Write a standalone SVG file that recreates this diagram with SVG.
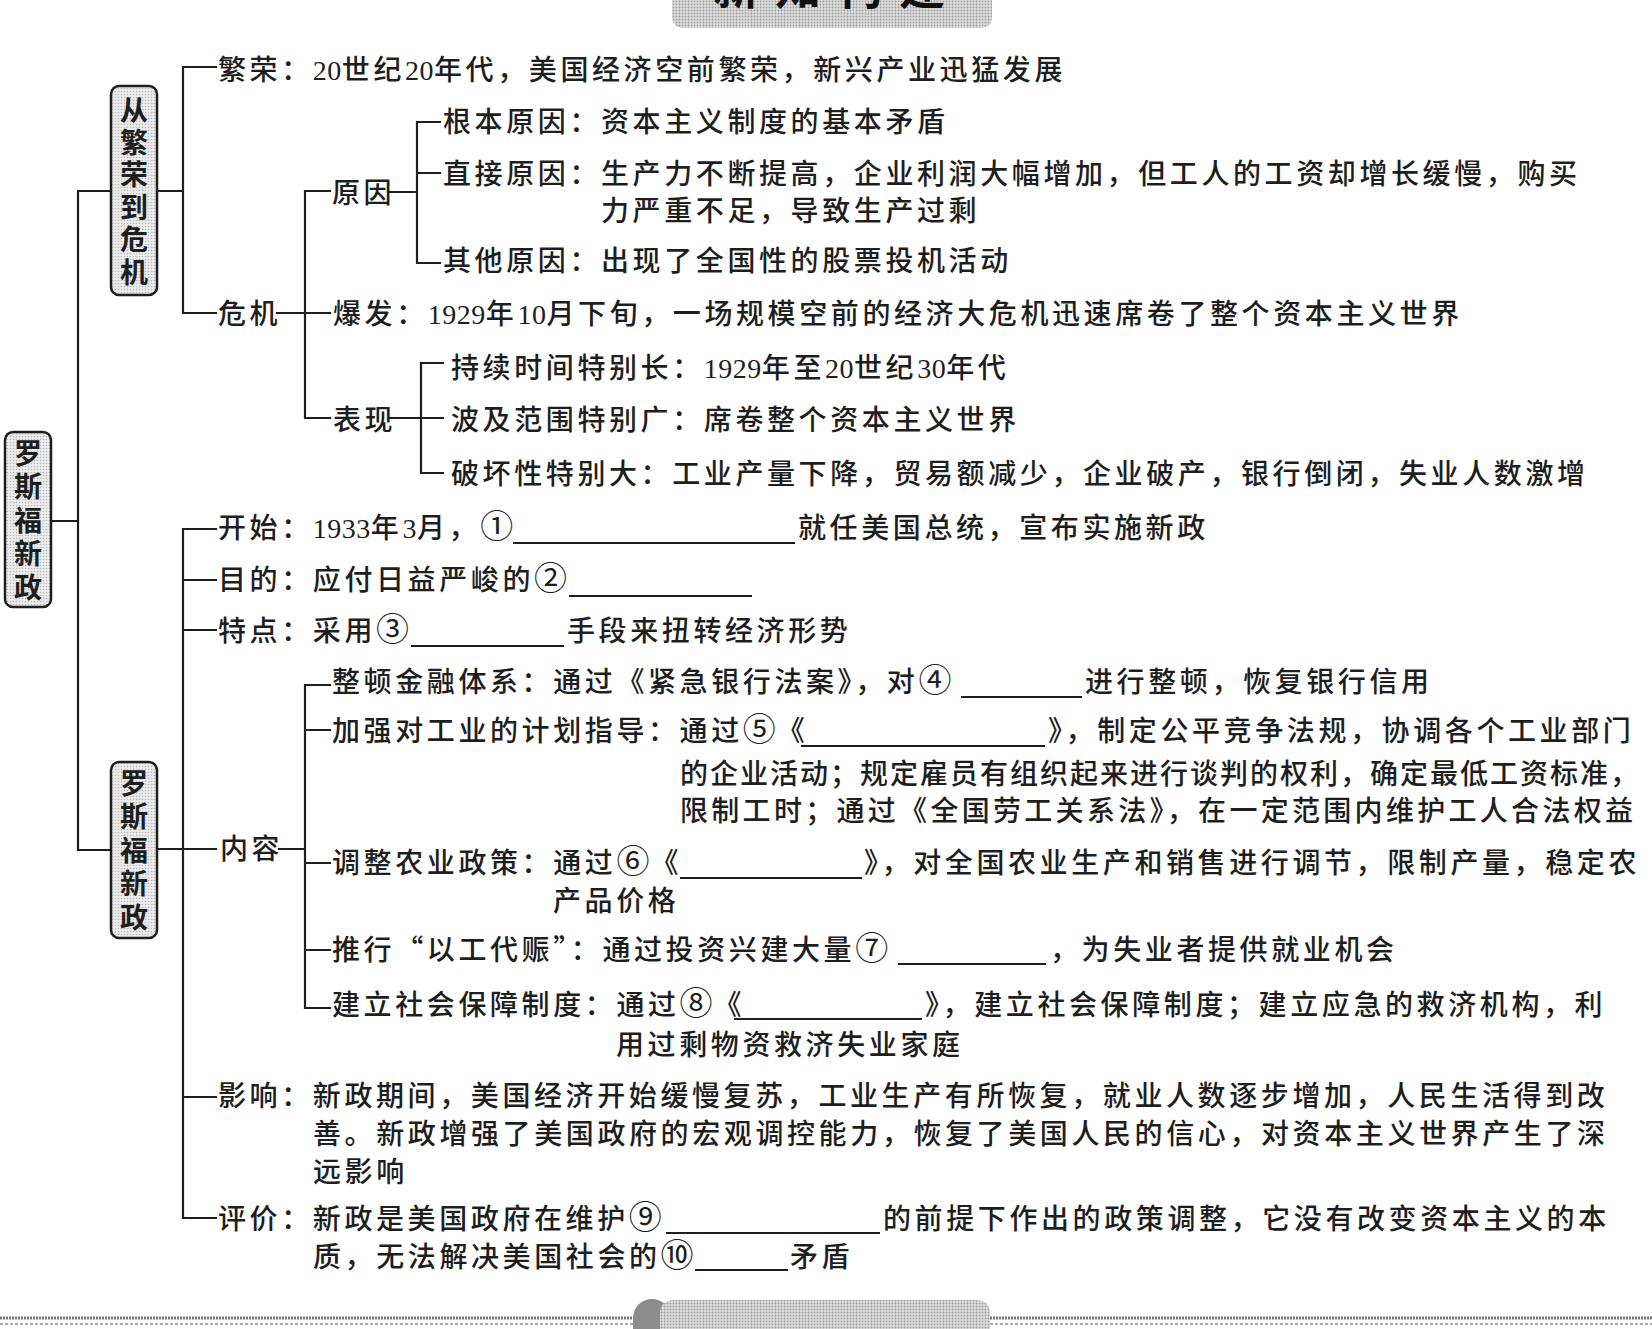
<svg xmlns="http://www.w3.org/2000/svg" width="1652" height="1329" viewBox="0 0 1652 1329">
<style>
.t{font-family:"Noto Sans CJK SC","Noto Sans",sans-serif;font-size:28px;letter-spacing:3.6px;fill:#1e1e1e;font-weight:500}
.n{font-family:"Liberation Serif","Noto Sans CJK SC",serif;letter-spacing:0.5px}
.ci{font-size:33px;letter-spacing:1px;font-weight:400}
.c{stroke:#1e1e1e;stroke-width:2.2;fill:none;stroke-linecap:square}
.bl{stroke:#1e1e1e;stroke-width:2}
.box{fill:url(#dots);stroke:#1e1e1e;stroke-width:2.5}
.bt{font-family:"Noto Sans CJK SC","Noto Sans",sans-serif;font-size:28px;fill:#1e1e1e;font-weight:700;writing-mode:vertical-rl;text-orientation:upright}
</style>
<defs>
<pattern id="dots" width="3" height="3" patternUnits="userSpaceOnUse">
<rect width="3" height="3" fill="#ececec"/>
<circle cx="1.5" cy="1.5" r="0.8" fill="#b8b8b8"/>
</pattern>
<pattern id="dots2" width="3" height="3" patternUnits="userSpaceOnUse">
<rect width="3" height="3" fill="#dedede"/>
<circle cx="1.5" cy="1.5" r="0.9" fill="#9a9a9a"/>
</pattern>
</defs>
<rect width="1652" height="1329" fill="#ffffff"/>

<g id="header-tab">
<path d="M672,-10 H992 V16 Q992,28 980,28 H684 Q672,28 672,16 Z" fill="url(#dots2)"/>
<text x="713" y="4" font-family="'Noto Sans CJK SC',sans-serif" font-size="46" font-weight="700" letter-spacing="16" fill="#111">新知构建</text>
</g>

<g id="footer-tab">
<line x1="0" y1="1318" x2="645" y2="1318" stroke="#777" stroke-width="3" stroke-dasharray="2 1"/>
<line x1="0" y1="1324" x2="645" y2="1324" stroke="#aaa" stroke-width="2" stroke-dasharray="3 2"/>
<line x1="990" y1="1318" x2="1652" y2="1318" stroke="#777" stroke-width="3" stroke-dasharray="2 1"/>
<line x1="990" y1="1324" x2="1652" y2="1324" stroke="#aaa" stroke-width="2" stroke-dasharray="3 2"/>
<path d="M633,1329 V1318 A19,19 0 0 1 671,1318 V1329 Z" fill="#8c8c8c"/>
<path d="M660,1340 V1314 Q660,1300 674,1300 H976 Q990,1300 990,1314 V1340 Z" fill="url(#dots2)"/>
</g>

<g id="connectors">
<path class="c" d="M51,521 H78 M78,191 V850 M78,191 H111 M78,850 H111"/>
<path class="c" d="M157,191 H183 M183,67 V313 M183,67 H216 M183,313 H216"/>
<path class="c" d="M277,313 H330 M305,191 V418 M305,191 H330 M305,418 H330"/>
<path class="c" d="M388,192 H417 M417,122 V263 M417,122 H440 M417,173 H440 M417,263 H440"/>
<path class="c" d="M390,418 H443 M421,363 V473 M421,363 H443 M421,473 H443"/>
<path class="c" d="M157,849 H216 M183,529 V1218 M183,529 H216 M183,580 H216 M183,630 H216 M183,1097 H216 M183,1218 H216"/>
<path class="c" d="M279,849 H305 M305,685 V1008 M305,685 H330 M305,730 H330 M305,863 H330 M305,950 H330 M305,1008 H330"/>
</g>

<g id="root">
<rect class="box" x="5" y="432" width="46" height="175" rx="8"/>
<text class="bt" x="28" y="439" style="letter-spacing:5.5px">罗斯福新政</text>
</g>

<g id="node-prosperity-crisis">
<rect class="box" x="111" y="86" width="46" height="209" rx="8"/>
<text class="bt" x="134" y="96" style="letter-spacing:4.4px">从繁荣到危机</text>
</g>

<g id="node-new-deal">
<rect class="box" x="111" y="762" width="46" height="176" rx="8"/>
<text class="bt" x="134" y="769" style="letter-spacing:5.5px">罗斯福新政</text>
</g>

<g id="node-prosperity"><text class="t" x="218" y="80">繁荣：<tspan class="n">20</tspan>世纪<tspan class="n">20</tspan>年代，美国经济空前繁荣，新兴产业迅猛发展</text></g>
<g id="node-crisis"><text class="t" x="218" y="324">危机</text></g>
<g id="node-cause"><text class="t" x="332" y="203">原因</text></g>
<g id="node-root-cause"><text class="t" x="443" y="132">根本原因：资本主义制度的基本矛盾</text></g>
<g id="node-direct-cause">
<text class="t" x="443" y="184">直接原因：生产力不断提高，企业利润大幅增加，但工人的工资却增长缓慢，购买</text>
<text class="t" x="601" y="221">力严重不足，导致生产过剩</text>
</g>
<g id="node-other-cause"><text class="t" x="443" y="271">其他原因：出现了全国性的股票投机活动</text></g>
<g id="node-outbreak"><text class="t" x="333" y="324">爆发：<tspan class="n">1929</tspan>年<tspan class="n">10</tspan>月下旬，一场规模空前的经济大危机迅速席卷了整个资本主义世界</text></g>
<g id="node-feature"><text class="t" x="333" y="430">表现</text></g>
<g id="node-long"><text class="t" x="451" y="378">持续时间特别长：<tspan class="n">1929</tspan>年至<tspan class="n">20</tspan>世纪<tspan class="n">30</tspan>年代</text></g>
<g id="node-wide"><text class="t" x="451" y="430">波及范围特别广：席卷整个资本主义世界</text></g>
<g id="node-destructive"><text class="t" x="451" y="484">破坏性特别大：工业产量下降，贸易额减少，企业破产，银行倒闭，失业人数激增</text></g>

<g id="node-start">
<text class="t" x="218" y="538">开始：<tspan class="n">1933</tspan>年<tspan class="n">3</tspan>月，<tspan class="ci">①</tspan></text>
<line class="bl" x1="513" y1="543" x2="795" y2="543"/>
<text class="t" x="798" y="538">就任美国总统，宣布实施新政</text>
</g>
<g id="node-purpose">
<text class="t" x="218" y="590">目的：应付日益严峻的<tspan class="ci">②</tspan></text>
<line class="bl" x1="569" y1="596" x2="752" y2="596"/>
</g>
<g id="node-trait">
<text class="t" x="218" y="641">特点：采用<tspan class="ci">③</tspan></text>
<line class="bl" x1="411" y1="646" x2="564" y2="646"/>
<text class="t" x="567" y="641">手段来扭转经济形势</text>
</g>
<g id="node-content"><text class="t" x="220" y="859">内容</text></g>
<g id="node-finance">
<text class="t" x="332" y="692">整顿金融体系：通过《紧急银行法案》，对<tspan class="ci">④</tspan></text>
<line class="bl" x1="961" y1="697" x2="1082" y2="697"/>
<text class="t" x="1085" y="692">进行整顿，恢复银行信用</text>
</g>
<g id="node-industry">
<text class="t" x="332" y="741">加强对工业的计划指导：通过<tspan class="ci">⑤</tspan>《</text>
<line class="bl" x1="801" y1="746" x2="1045" y2="746"/>
<text class="t" x="1048" y="741">》，制定公平竞争法规，协调各个工业部门</text>
<text class="t" x="680" y="784" style="letter-spacing:2px">的企业活动；规定雇员有组织起来进行谈判的权利，确定最低工资标准，</text>
<text class="t" x="680" y="821" style="letter-spacing:3.3px">限制工时；通过《全国劳工关系法》，在一定范围内维护工人合法权益</text>
</g>
<g id="node-agriculture">
<text class="t" x="332" y="873">调整农业政策：通过<tspan class="ci">⑥</tspan>《</text>
<line class="bl" x1="680" y1="878" x2="862" y2="878"/>
<text class="t" x="864" y="873">》，对全国农业生产和销售进行调节，限制产量，稳定农</text>
<text class="t" x="553" y="911">产品价格</text>
</g>
<g id="node-relief">
<text class="t" x="332" y="960">推行“以工代赈”：通过投资兴建大量<tspan class="ci">⑦</tspan></text>
<line class="bl" x1="898" y1="964" x2="1046" y2="964"/>
<text class="t" x="1050" y="960">，为失业者提供就业机会</text>
</g>
<g id="node-security">
<text class="t" x="332" y="1015">建立社会保障制度：通过<tspan class="ci">⑧</tspan>《</text>
<line class="bl" x1="734" y1="1019" x2="922" y2="1019"/>
<text class="t" x="925" y="1015">》，建立社会保障制度；建立应急的救济机构，利</text>
<text class="t" x="616" y="1055">用过剩物资救济失业家庭</text>
</g>
<g id="node-impact">
<text class="t" x="218" y="1106">影响：新政期间，美国经济开始缓慢复苏，工业生产有所恢复，就业人数逐步增加，人民生活得到改</text>
<text class="t" x="313" y="1144">善。新政增强了美国政府的宏观调控能力，恢复了美国人民的信心，对资本主义世界产生了深</text>
<text class="t" x="313" y="1182">远影响</text>
</g>
<g id="node-evaluation">
<text class="t" x="218" y="1229">评价：新政是美国政府在维护<tspan class="ci">⑨</tspan></text>
<line class="bl" x1="666" y1="1233" x2="880" y2="1233"/>
<text class="t" x="883" y="1229">的前提下作出的政策调整，它没有改变资本主义的本</text>
<text class="t" x="313" y="1267">质，无法解决美国社会的<tspan class="ci">⑩</tspan></text>
<line class="bl" x1="695" y1="1270" x2="788" y2="1270"/>
<text class="t" x="790" y="1267">矛盾</text>
</g>
</svg>
